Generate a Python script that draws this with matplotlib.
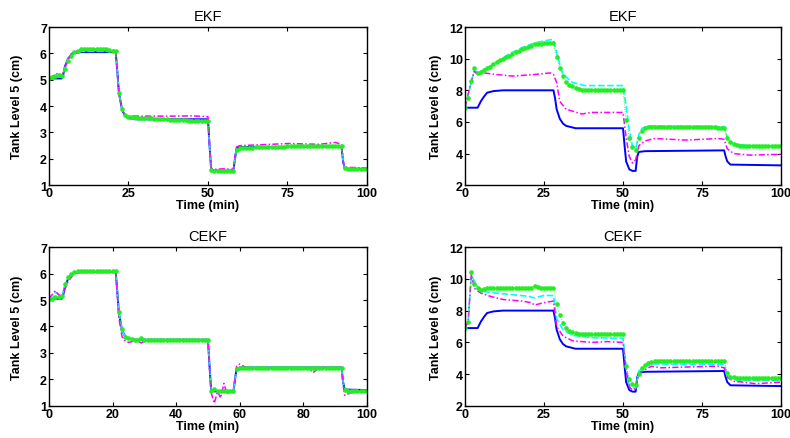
import matplotlib
matplotlib.use("Agg")
import matplotlib.pyplot as plt

plt.rcParams['font.family'] = ['Liberation Sans', 'DejaVu Sans']

# time grid for the green (dotted marker) series, one sample per minute
t_min = list(range(101))

# ---- tank level 5 (left column) ----
t_true5 = [0, 4, 4.5, 5, 6, 7, 8, 10, 21, 21.5, 22, 23, 24, 25, 27, 50, 50.5, 51, 52,
           58, 58.5, 59, 60, 92, 92.5, 93, 100]
true5 = [5.05, 5.05, 5.2, 5.5, 5.8, 5.95, 6.02, 6.05, 6.05, 5.3, 4.5, 3.85, 3.62, 3.55, 3.5,
         3.5, 2.5, 1.6, 1.55, 1.55, 2.0, 2.4, 2.45, 2.45, 1.9, 1.62, 1.6]

t_ekf5_c = [0, 2, 3, 4, 5, 6, 7, 8, 10, 21, 21.5, 22, 23, 24, 25, 30, 40, 50, 50.5, 51, 52,
            58, 58.5, 59, 60, 75, 92, 92.5, 93, 100]
ekf5_c = [5.05, 5.1, 5.15, 5.1, 5.45, 5.8, 5.95, 6.02, 6.08, 6.08, 5.3, 4.5, 3.85, 3.6, 3.52,
          3.5, 3.48, 3.45, 2.5, 1.6, 1.53, 1.53, 2.0, 2.38, 2.42, 2.45, 2.47, 1.9, 1.62, 1.6]

t_ekf5_m = [0, 2, 3, 4, 5, 6, 7, 8, 10, 15, 21, 21.5, 22, 23, 24, 25, 30, 40, 45, 50, 50.5,
            51, 52, 55, 58, 58.5, 59, 60, 70, 75, 85, 90, 92, 92.5, 93, 100]
ekf5_m = [5.05, 5.2, 5.25, 5.15, 5.45, 5.8, 5.98, 6.08, 6.15, 6.15, 6.12, 5.3, 4.5, 3.85, 3.65,
          3.62, 3.62, 3.62, 3.63, 3.6, 2.5, 1.65, 1.6, 1.62, 1.6, 2.05, 2.45, 2.5, 2.55, 2.58,
          2.55, 2.62, 2.55, 1.9, 1.68, 1.65]

ekf5_g = [5.05, 5.10, 5.15, 5.20, 5.15, 5.40, 5.70, 5.90, 6.05, 6.10,
          6.15, 6.18, 6.18, 6.18, 6.18, 6.17, 6.17, 6.16, 6.15, 6.12,
          6.10, 6.10, 4.50, 3.90, 3.65, 3.60, 3.58, 3.57, 3.56, 3.55,
          3.55, 3.54, 3.53, 3.52, 3.52, 3.51, 3.50, 3.50, 3.49, 3.48,
          3.48, 3.47, 3.46, 3.46, 3.45, 3.45, 3.44, 3.44, 3.43, 3.42,
          3.42, 1.56, 1.53, 1.52, 1.52, 1.52, 1.52, 1.52, 1.53, 2.35,
          2.40, 2.41, 2.41, 2.42, 2.42, 2.43, 2.43, 2.44, 2.44, 2.45,
          2.45, 2.45, 2.46, 2.46, 2.46, 2.47, 2.47, 2.47, 2.47, 2.48,
          2.48, 2.48, 2.48, 2.48, 2.49, 2.49, 2.49, 2.49, 2.50, 2.50,
          2.50, 2.50, 2.50, 1.65, 1.63, 1.62, 1.62, 1.62, 1.62, 1.62,
          1.62]

t_cekf5_c = [0, 1, 2, 3, 4, 5, 6, 7, 8, 10, 21, 21.5, 22, 23, 24, 25, 27, 50, 50.5, 51, 52,
             58, 58.5, 59, 60, 92, 92.5, 93, 100]
cekf5_c = [5.05, 5.05, 5.3, 5.2, 5.12, 5.5, 5.8, 5.95, 6.02, 6.06, 6.06, 5.3, 4.5, 3.85, 3.6,
           3.55, 3.5, 3.5, 2.5, 1.6, 1.55, 1.55, 2.0, 2.4, 2.45, 2.45, 1.9, 1.6, 1.58]

t_cekf5_m = [0, 2, 3, 4, 5, 6, 8, 10, 21, 21.5, 22, 23, 24, 25, 27, 29, 30, 35, 40, 45, 50,
             50.5, 51, 52, 53, 54, 55, 56, 57, 58, 58.5, 59, 60, 62, 65, 70, 75, 80, 82, 83,
             85, 92, 92.5, 93, 94, 95, 100]
cekf5_m = [5.05, 5.35, 5.2, 5.15, 5.4, 5.7, 6.0, 6.05, 6.05, 5.2, 4.3, 3.6, 3.45, 3.4, 3.45,
           3.38, 3.45, 3.45, 3.5, 3.48, 3.5, 2.4, 1.5, 1.1, 1.55, 1.3, 1.85, 1.45, 1.55, 1.5,
           2.0, 2.5, 2.58, 2.45, 2.4, 2.45, 2.42, 2.4, 2.38, 2.25, 2.45, 2.45, 1.8, 1.4, 1.45,
           1.5, 1.55]

cekf5_g = [5.05, 5.05, 5.10, 5.10, 5.15, 5.60, 5.85, 5.98, 6.05, 6.08,
           6.10, 6.10, 6.10, 6.10, 6.10, 6.10, 6.10, 6.10, 6.10, 6.10,
           6.10, 6.10, 4.55, 3.90, 3.62, 3.55, 3.52, 3.50, 3.50, 3.55,
           3.50, 3.50, 3.50, 3.50, 3.50, 3.50, 3.50, 3.50, 3.50, 3.50,
           3.50, 3.50, 3.50, 3.50, 3.50, 3.50, 3.50, 3.50, 3.50, 3.50,
           3.50, 1.58, 1.65, 1.55, 1.55, 1.55, 1.55, 1.55, 1.55, 2.40,
           2.45, 2.45, 2.45, 2.45, 2.45, 2.45, 2.45, 2.45, 2.45, 2.45,
           2.45, 2.45, 2.45, 2.45, 2.45, 2.45, 2.45, 2.45, 2.45, 2.45,
           2.45, 2.45, 2.45, 2.45, 2.45, 2.45, 2.45, 2.45, 2.45, 2.45,
           2.45, 2.45, 2.45, 1.60, 1.58, 1.58, 1.57, 1.57, 1.56, 1.56,
           1.56]

# ---- tank level 6 (right column) ----
t_true6 = [0, 4, 5, 6, 7, 9, 12, 28, 28.5, 29, 30, 31, 32, 35, 50, 50.5, 51, 52, 53, 54,
           54.5, 55, 57, 82, 82.5, 83, 84, 100]
true6 = [6.9, 6.9, 7.3, 7.6, 7.85, 7.95, 8.0, 8.0, 7.5, 6.8, 6.2, 5.9, 5.75, 5.6, 5.6, 4.5,
         3.5, 3.0, 2.9, 2.9, 3.8, 4.1, 4.15, 4.2, 3.8, 3.5, 3.3, 3.25]

t_ekf6_c = [0, 2, 3, 4, 6, 10, 14, 18, 22, 27, 28, 29.5, 31, 34, 38, 50, 51, 52, 53, 54,
            55, 56, 58, 70, 82, 83, 85, 90, 100]
ekf6_c = [6.9, 8.5, 9.3, 9.1, 9.3, 9.8, 10.3, 10.7, 11.0, 11.2, 11.2, 10.0, 9.0, 8.5, 8.3,
          8.3, 7.0, 5.5, 4.5, 4.3, 5.2, 5.6, 5.75, 5.72, 5.7, 5.0, 4.6, 4.5, 4.45]

t_ekf6_m = [0, 2, 3, 4, 6, 10, 15, 22, 27, 28, 29, 30, 32, 37, 40, 50, 51, 52, 53, 54, 55,
            57, 60, 70, 80, 82, 83, 85, 90, 100]
ekf6_m = [6.9, 8.6, 9.2, 9.0, 9.1, 9.0, 8.9, 9.0, 9.1, 9.0, 8.5, 7.3, 6.8, 6.5, 6.6, 6.6,
          5.0, 3.8, 3.4, 3.6, 4.5, 4.8, 4.95, 4.85, 4.95, 4.9, 4.3, 4.0, 3.9, 3.95]

ekf6_g = [6.90, 7.50, 8.60, 9.40, 9.10, 9.15, 9.30, 9.40, 9.50, 9.65,
          9.80, 9.90, 10.00, 10.10, 10.20, 10.30, 10.40, 10.50, 10.60, 10.70,
          10.75, 10.80, 10.90, 10.95, 10.95, 11.00, 11.00, 11.00, 11.00, 10.10,
          9.40, 8.90, 8.55, 8.35, 8.25, 8.15, 8.10, 8.05, 8.05, 8.00,
          8.00, 8.00, 8.05, 8.05, 8.05, 8.05, 8.05, 8.05, 8.05, 8.05,
          8.05, 6.10, 5.00, 4.40, 4.25, 5.00, 5.40, 5.60, 5.65, 5.70,
          5.70, 5.70, 5.70, 5.70, 5.70, 5.70, 5.70, 5.70, 5.70, 5.70,
          5.70, 5.70, 5.70, 5.70, 5.70, 5.70, 5.68, 5.66, 5.65, 5.65,
          5.62, 5.60, 5.60, 5.00, 4.70, 4.60, 4.55, 4.50, 4.50, 4.50,
          4.48, 4.48, 4.45, 4.45, 4.48, 4.48, 4.45, 4.45, 4.45, 4.45,
          4.45]

t_cekf6_c = [0, 1, 2, 4, 6, 10, 15, 20, 22, 25, 28, 29, 31, 34, 40, 50, 51, 52, 54, 55, 57,
             60, 70, 82, 83, 86, 100]
cekf6_c = [6.9, 7.3, 10.2, 9.5, 9.2, 9.1, 9.0, 8.9, 8.8, 8.95, 8.95, 7.5, 6.8, 6.45, 6.3,
           6.25, 4.5, 3.3, 3.1, 4.2, 4.5, 4.65, 4.6, 4.6, 3.9, 3.6, 3.6]

t_cekf6_m = [0, 1, 2, 3, 5, 8, 12, 18, 21, 22, 25, 28, 29, 31, 34, 40, 45, 50, 51, 52, 53,
             54, 55, 57, 59, 62, 70, 80, 82, 83, 85, 88, 92, 100]
cekf6_m = [6.9, 7.3, 10.3, 9.4, 9.1, 8.9, 8.7, 8.6, 8.5, 8.35, 8.5, 8.6, 7.0, 6.4, 6.1, 6.0,
           6.05, 6.0, 4.2, 3.2, 3.0, 3.1, 4.0, 4.3, 4.5, 4.4, 4.45, 4.5, 4.4, 3.8, 3.55, 3.5,
           3.4, 3.5]

cekf6_g = [6.90, 7.30, 10.40, 9.70, 9.40, 9.30, 9.35, 9.40, 9.45, 9.45,
           9.45, 9.45, 9.45, 9.45, 9.45, 9.45, 9.45, 9.45, 9.45, 9.45,
           9.45, 9.45, 9.55, 9.50, 9.45, 9.45, 9.45, 9.45, 9.45, 8.40,
           7.70, 7.20, 6.90, 6.70, 6.65, 6.60, 6.55, 6.50, 6.50, 6.50,
           6.50, 6.50, 6.50, 6.50, 6.50, 6.50, 6.50, 6.50, 6.50, 6.50,
           6.50, 4.50, 3.70, 3.40, 3.30, 4.00, 4.40, 4.60, 4.70, 4.75,
           4.80, 4.80, 4.80, 4.80, 4.80, 4.80, 4.80, 4.80, 4.80, 4.80,
           4.80, 4.80, 4.80, 4.80, 4.80, 4.80, 4.80, 4.80, 4.80, 4.80,
           4.80, 4.80, 4.80, 4.10, 3.85, 3.80, 3.75, 3.75, 3.75, 3.75,
           3.75, 3.75, 3.75, 3.75, 3.75, 3.75, 3.75, 3.75, 3.75, 3.75,
           3.75]

panels = [
    # (rect, title, ylabel, ylim, yticks, xticks, true, cyan, magenta, green)
    ([0.062, 0.576, 0.4025, 0.360], "EKF", "Tank Level 5 (cm)", (1, 7), range(1, 8),
     [0, 25, 50, 75, 100], (t_true5, true5), (t_ekf5_c, ekf5_c), (t_ekf5_m, ekf5_m), ekf5_g),
    ([0.5886, 0.576, 0.400, 0.360], "EKF", "Tank Level 6 (cm)", (2, 12), range(2, 13, 2),
     [0, 25, 50, 75, 100], (t_true6, true6), (t_ekf6_c, ekf6_c), (t_ekf6_m, ekf6_m), ekf6_g),
    ([0.062, 0.073, 0.4025, 0.362], "CEKF", "Tank Level 5 (cm)", (1, 7), range(1, 8),
     [0, 20, 40, 60, 80, 100], (t_true5, true5), (t_cekf5_c, cekf5_c), (t_cekf5_m, cekf5_m), cekf5_g),
    ([0.5886, 0.073, 0.400, 0.362], "CEKF", "Tank Level 6 (cm)", (2, 12), range(2, 13, 2),
     [0, 25, 50, 75, 100], (t_true6, true6), (t_cekf6_c, cekf6_c), (t_cekf6_m, cekf6_m), cekf6_g),
]

fig = plt.figure(figsize=(7.9, 4.39), dpi=100)

for rect, title, ylabel, ylim, yticks, xticks, tr, cy, mg, gr in panels:
    ax = fig.add_axes(rect)
    ax.plot(tr[0], tr[1], color="#0000ff", lw=1.4)
    ax.plot(cy[0], cy[1], color="#00ffff", lw=1.2, ls=(0, (4, 1.5)))
    ax.plot(mg[0], mg[1], color="#ff00ff", lw=1.1, ls=(0, (4, 1.5, 1, 1.5)))
    ax.plot(t_min, gr, color="#22ee22", lw=0.6, ls=":", marker="o", ms=2.3, mec="#22ee22")
    ax.set_xlim(0, 100)
    ax.set_ylim(*ylim)
    ax.set_xticks(xticks)
    ax.set_yticks(list(yticks))
    ax.tick_params(direction="in", top=True, right=True, length=3, width=0.8,
                   labelsize=9, pad=1.5)
    for lab in ax.get_xticklabels() + ax.get_yticklabels():
        lab.set_fontweight("bold")
    for sp in ax.spines.values():
        sp.set_linewidth(1.0)
    ax.set_title(title, fontsize=10.5, pad=5)
    ax.set_xlabel("Time (min)", fontsize=9, fontweight="bold", labelpad=0)
    # left column has single-digit ticks but its label sits further out
    ax.set_ylabel(ylabel, fontsize=9, fontweight="bold",
                  labelpad=12 if rect[0] < 0.5 else 5)

fig.savefig("out.png", dpi=100)
